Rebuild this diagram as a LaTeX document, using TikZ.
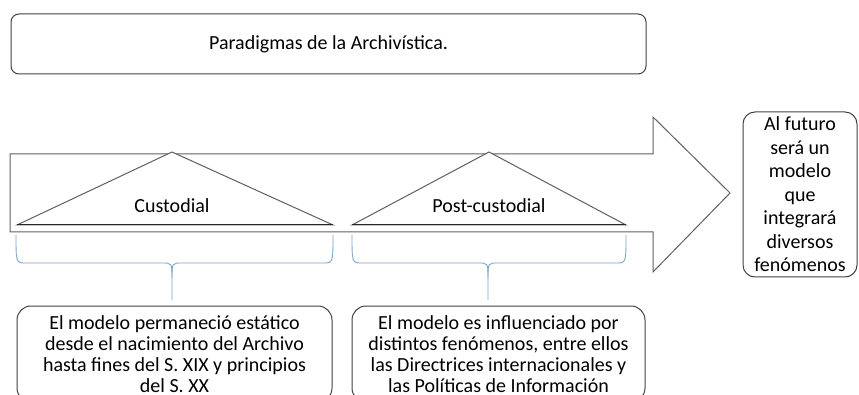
\documentclass[tikz,border=0pt]{standalone}
\usepackage{fontspec}
\setmainfont{Carlito}
\usetikzlibrary{positioning,calc}

\definecolor{shapegray}{RGB}{95,95,95}
\definecolor{boxline}{RGB}{65,65,65}
\definecolor{bracecol}{RGB}{125,165,200}

\begin{document}
\begin{tikzpicture}[x=1pt,y=-1pt,
    box/.style={draw=boxline,line width=1pt,inner sep=0pt,align=center,
        font=\fontsize{20}{21}\selectfont},
    outline/.style={draw=shapegray,line width=1pt},
    curly/.style={draw=bracecol,line width=0.9pt},
    periodtext/.style={inner sep=0pt,font=\fontsize{20}{24}\selectfont}]

\useasboundingbox (0,0) rectangle (859,395);
\clip (0,0) rectangle (859,395);

% Title box
\node[box,rounded corners=8pt,minimum width=635pt,minimum height=60pt] (title) at (328.5,44) {Paradigmas de la Archivística.};

% Big arrow (shaft and head)
\draw[outline] (10,154) -- (653,154) -- (653,117) -- (730,193) -- (653,272) -- (653,232) -- (10,232) -- cycle;

% Triangles on the arrow
\coordinate (c1l) at (17,225);
\coordinate (c1t) at (172,152);
\coordinate (c1r) at (333,225);
\coordinate (c2l) at (352,225);
\coordinate (c2t) at (489,152);
\coordinate (c2r) at (626,225);
\draw[outline,fill=white] (c1l) -- (c1t) -- (c1r) -- cycle;
\draw[outline,fill=white] (c2l) -- (c2t) -- (c2r) -- cycle;
\draw[line width=1pt,black!85] (c1l) -- (c1r);
\draw[line width=1pt,black!85] (c2l) -- (c2r);

\node[periodtext,anchor=base] (custodial) at (172,213) {Custodial};
\node[periodtext,anchor=base] (postcustodial) at (489,213) {Post-custodial};

% Braces under the two periods
\foreach \l/\m/\r in {16/172/333, 352/488/626} {
  \draw[curly] (\l,235) .. controls (\l,263) .. (\l+10,263) -- (\m-10,263)
      .. controls (\m,263) .. (\m,278) -- (\m,300);
  \draw[curly] (\m,278) .. controls (\m,263) .. (\m+10,263) -- (\r-10,263)
      .. controls (\r,263) .. (\r,235);
}

% Description boxes
\node[box,rounded corners=14pt,minimum width=315pt,minimum height=96pt] (desc1) at (174.5,354)
  {El modelo permaneció estático\\desde el nacimiento del Archivo\\hasta fines del S. XIX y principios\\del S. XX};
\node[box,rounded corners=14pt,minimum width=293pt,minimum height=96pt] (desc2) at (498.5,354)
  {El modelo es influenciado por\\distintos fenómenos, entre ellos\\las Directrices internacionales y\\las Políticas de Información};

% Future box
\node[box,rounded corners=12pt,minimum width=114pt,minimum height=165pt,
      font=\fontsize{20}{23.5}\selectfont] (future) at (800,194.5)
  {Al futuro\\será un\\modelo\\que\\integrará\\diversos\\fenómenos};

\end{tikzpicture}
\end{document}
